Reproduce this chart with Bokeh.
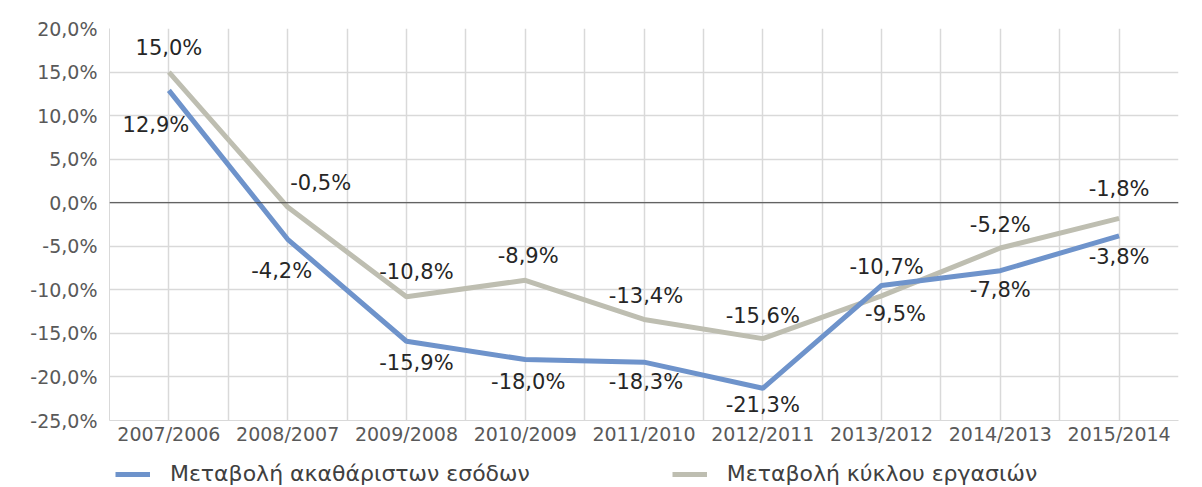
from bokeh.plotting import figure
from bokeh.layouts import column
from bokeh.models import (ColumnDataSource, LabelSet, Span, FixedTicker, Legend,
                          LegendItem, Range1d)
from bokeh.embed import file_html
from bokeh.resources import INLINE
from bokeh.core.properties import value

categories = ["2007/2006", "2008/2007", "2009/2008", "2010/2009", "2011/2010",
              "2012/2011", "2013/2012", "2014/2013", "2015/2014"]
gross_revenue = [12.9, -4.2, -15.9, -18.0, -18.3, -21.3, -9.5, -7.8, -3.8]
turnover = [15.0, -0.5, -10.8, -8.9, -13.4, -15.6, -10.7, -5.2, -1.8]
series_names = ["Μεταβολή ακαθάριστων εσόδων", "Μεταβολή κύκλου εργασιών"]
y_ticks = [-25, -20, -15, -10, -5, 0, 5, 10, 15, 20]

# label offsets (screen px)
blue_dx = [-13, -6, 10, 3, 2, 0, 14, 0, 0]
blue_dy = [-35, -32, -22, -22, -20, -17, -29, -19, -21]
gray_dx = [0, 33, 10, 3, 2, 0, 5, 0, 0]
gray_dy = [24, 24, 25, 24, 23, 23, 29, 23, 29]

FONT = "DejaVu Sans"
BLUE = "#6E93CB"
GRAY = "#BEBEB1"

def fmt(v):
    return f"{v:.1f}%".replace(".", ",")

xs = list(range(len(categories)))

p = figure(width=1194, height=447, output_backend="svg", toolbar_location=None,
           x_range=(-0.5, len(categories) - 0.5), y_range=(-25, 20),
           min_border_left=109, min_border_right=16, min_border_top=28,
           min_border_bottom=24)
p.outline_line_color = None
p.background_fill_color = "white"
p.border_fill_color = "white"

# axes
p.xaxis.ticker = FixedTicker(ticks=xs)
p.xaxis.major_label_overrides = {i: c for i, c in enumerate(categories)}
p.yaxis.ticker = FixedTicker(ticks=y_ticks)
p.yaxis.major_label_overrides = {t: fmt(t) for t in y_ticks}
for ax in (p.xaxis, p.yaxis):
    ax.axis_line_color = "#D9D9D9"
    ax.major_tick_line_color = None
    ax.minor_tick_line_color = None
    ax.major_tick_out = 0
    ax.major_tick_in = 0
    ax.major_label_text_font = FONT
    ax.major_label_text_color = "#595959"
    ax.major_label_text_font_size = "19px"
p.xaxis.major_label_standoff = 2
p.yaxis.major_label_standoff = 12

p.xgrid.ticker = FixedTicker(ticks=[i * 0.5 - 0.5 for i in range(2 * len(categories) + 1)])
p.ygrid.ticker = FixedTicker(ticks=y_ticks)
p.xgrid.grid_line_color = "#D9D9D9"
p.ygrid.grid_line_color = "#D9D9D9"
p.xgrid.grid_line_width = 1.5
p.ygrid.grid_line_width = 1.5

p.add_layout(Span(location=0, dimension="width", line_color="#404040", line_width=1))

src = ColumnDataSource(dict(
    x=xs, blue=gross_revenue, gray=turnover,
    blue_lbl=[fmt(v) for v in gross_revenue], gray_lbl=[fmt(v) for v in turnover],
    bdx=blue_dx, bdy=blue_dy, gdx=gray_dx, gdy=gray_dy))

p.line("x", "gray", source=src, line_color=GRAY, line_width=5)
p.line("x", "blue", source=src, line_color=BLUE, line_width=5)

for col, dx, dy in (("blue", "bdx", "bdy"), ("gray", "gdx", "gdy")):
    p.add_layout(LabelSet(x="x", y=col, text=col + "_lbl", source=src,
                          x_offset=dx, y_offset=dy, text_align="center",
                          text_baseline="middle", text_font=value(FONT),
                          text_font_size="21px", text_color="#262626"))

# legend strip below the chart
pl = figure(width=1194, height=40, output_backend="svg", toolbar_location=None,
            x_range=Range1d(100, 101), y_range=Range1d(100, 101),
            x_axis_type=None, y_axis_type=None,
            min_border_left=0, min_border_right=0, min_border_top=0, min_border_bottom=0)
pl.outline_line_color = None
pl.grid.visible = False
lb = pl.line("x", "blue", source=src, line_color=BLUE, line_width=5)
lg = pl.line("x", "gray", source=src, line_color=GRAY, line_width=5)
legend = Legend(items=[LegendItem(label=series_names[0], renderers=[lb]),
                       LegendItem(label=series_names[1], renderers=[lg])],
                location=(6, 1), orientation="horizontal",
                label_text_font=FONT, label_text_font_size="22px",
                label_text_color="#404040", glyph_width=35, label_standoff=20,
                spacing=142, padding=0, margin=0, border_line_color=None,
                background_fill_alpha=0)
pl.add_layout(legend, "center")

layout = column(p, pl, spacing=0)
open("out.html", "w").write(file_html(layout, INLINE))
